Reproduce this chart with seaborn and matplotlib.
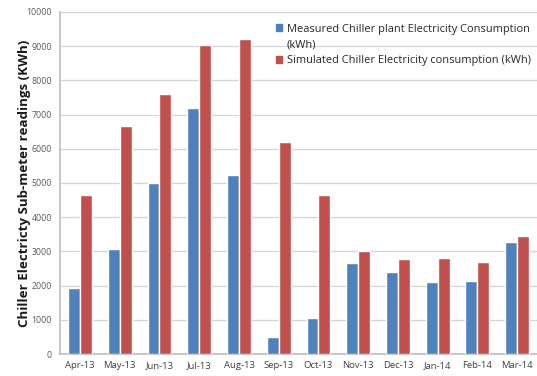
import matplotlib
matplotlib.use("Agg")
import matplotlib.pyplot as plt
import matplotlib.patches as mpatches
import seaborn as sns
import pandas as pd
import numpy as np

months = ["Apr-13", "May-13", "Jun-13", "Jul-13", "Aug-13", "Sep-13",
          "Oct-13", "Nov-13", "Dec-13", "Jan-14", "Feb-14", "Mar-14"]
measured = [1930, 3060, 5000, 7190, 5220, 500, 1040, 2650, 2410, 2110, 2140, 3280]
simulated = [4640, 6680, 7600, 9040, 9210, 6210, 4650, 3020, 2770, 2810, 2700, 3440]
series_names = ["Measured Chiller plant Electricity Consumption (kWh)",
                "Simulated Chiller Electricity consumption (kWh)"]
colors = ["#4F81BD", "#C0504D"]

df = pd.DataFrame({
    "month": months * 2,
    "kwh": measured + simulated,
    "series": [series_names[0]] * len(months) + [series_names[1]] * len(months),
})

sns.set_theme(style="white")
plt.rcParams["font.family"] = ["Open Sans", "DejaVu Sans"]

fig = plt.figure(figsize=(5.37, 3.76), dpi=100)
ax = fig.add_axes([0.112, 0.0585, 0.888, 0.9096])

sns.barplot(data=df, x="month", y="kwh", hue="series", order=months,
            hue_order=series_names, palette=colors, width=0.6, gap=0,
            saturation=1, errorbar=None, ax=ax, zorder=3, legend=False)

ax.set_ylim(0, 10000)
ax.set_xlim(-0.5, len(months) - 0.5)
ax.set_yticks(np.arange(0, 10001, 1000))
ax.yaxis.grid(True, color="#d4d4d4", linewidth=0.9, zorder=0)
ax.set_axisbelow(True)

for side in ["top", "right"]:
    ax.spines[side].set_visible(False)
ax.spines["left"].set_color("#bfbfbf")
ax.spines["bottom"].set_color("#bfbfbf")

ax.tick_params(axis="y", labelsize=6.3, labelcolor="#595959", length=0, pad=6)
ax.tick_params(axis="x", labelsize=6.8, labelcolor="#404040", length=0, pad=5)
ax.set_xticks(np.arange(-0.5, len(months), 1.0), minor=True)
ax.tick_params(axis="x", which="minor", length=3, color="#bfbfbf", direction="out")

ax.set_xlabel("")
ax.set_ylabel("Chiller Electricty Sub-meter readings (KWh)", fontsize=9.6,
              fontweight="bold", color="#1a1a1a")
ax.yaxis.set_label_coords(-0.062, 0.5)

# The first legend label wraps onto a second line; its continuation is an
# entry with an empty handle so the colour box sits beside the first line.
first_words, first_unit = series_names[0].rsplit(" ", 1)
handles = [mpatches.Patch(color=colors[0]),
           mpatches.Patch(color="none"),
           mpatches.Patch(color=colors[1])]
labels = [first_words, first_unit, series_names[1]]
leg = ax.legend(handles, labels, loc="upper left", bbox_to_anchor=(0.452, 0.966),
                frameon=False, fontsize=7.9, handlelength=0.6, handleheight=0.6,
                handletextpad=0.4, labelspacing=0.45, borderaxespad=0,
                borderpad=0)
for t in leg.get_texts():
    t.set_color("#262626")

fig.savefig("out.png", dpi=100)
